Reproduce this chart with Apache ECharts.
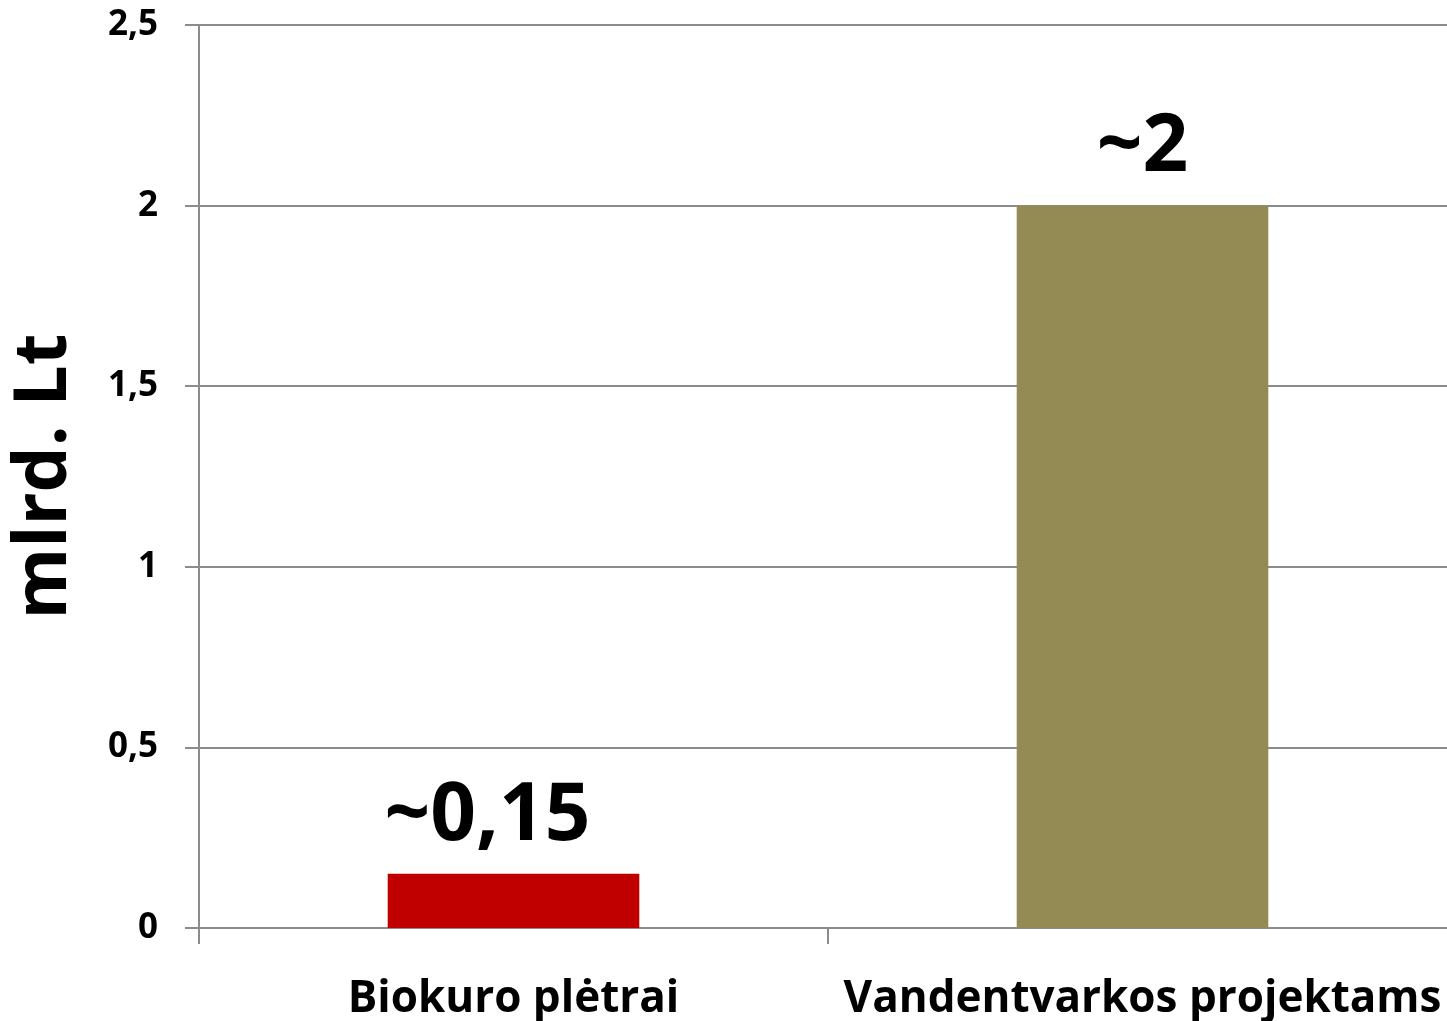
<!DOCTYPE html>
<html>
<head>
<meta charset="utf-8">
<title>mlrd. Lt</title>
<script src="https://cdn.jsdelivr.net/npm/echarts@6/dist/echarts.min.js"></script>
<style>
  html, body { margin: 0; padding: 0; background: #fff; }
  #chart { width: 1447px; height: 1021px; }
</style>
</head>
<body>
<div id="chart"></div>
<script>
// duomenys
const categories = ['Biokuro plėtrai', 'Vandentvarkos projektams']
const values = [0.15, 2]
const valueLabels = ['~0,15', '~2']
const barColors = ['#C00000', '#948A54']
const yTicks = [0, 0.5, 1, 1.5, 2, 2.5]

const font = '"Open Sans", "Noto Sans", sans-serif'
const gray = '#8c8c8c'
// pirmo užrašo poslinkis kaip originale
const labelShift = [[-26, 0], [0, 0]]

const chart = echarts.init(document.getElementById('chart'))
chart.setOption({
    animation: false,
    grid: { left: 199, right: -10, top: 25, bottom: 93, outerBoundsMode: 'none', containLabel: false },
    xAxis: {
        type: 'category',
        data: categories,
        axisLine: { show: true, lineStyle: { color: gray, width: 2 } },
        axisTick: { show: true, length: 16, lineStyle: { color: gray, width: 2 } },
        axisLabel: {
            interval: 0,
            hideOverlap: false,
            margin: 49,
            color: '#000',
            fontFamily: font,
            fontWeight: 'bold',
            fontSize: 44
        }
    },
    yAxis: {
        type: 'value',
        min: yTicks[0],
        max: yTicks[yTicks.length - 1],
        interval: 0.5,
        name: 'mlrd. Lt',
        nameLocation: 'middle',
        nameGap: 117,
        nameRotate: 90,
        nameTextStyle: {
            color: '#000',
            fontFamily: font,
            fontWeight: 'bold',
            fontSize: 73
        },
        axisLine: { show: true, lineStyle: { color: gray, width: 2 } },
        axisTick: { show: true, length: 14, lineStyle: { color: gray, width: 2 } },
        splitLine: { show: true, lineStyle: { color: gray, width: 2 } },
        axisLabel: {
            margin: 41,
            color: '#000',
            fontFamily: font,
            fontWeight: 'bold',
            fontSize: 35,
            formatter: (v) => String(v).replace('.', ',')
        }
    },
    series: [
        {
            type: 'bar',
            barWidth: '40%',
            data: values.map((v, i) => ({
                value: v,
                itemStyle: { color: barColors[i] },
                label: { formatter: valueLabels[i], offset: labelShift[i] }
            })),
            label: {
                show: true,
                position: 'top',
                distance: 17,
                color: '#000',
                fontFamily: font,
                fontWeight: 'bold',
                fontSize: 80
            }
        }
    ]
})
</script>
</body>
</html>
